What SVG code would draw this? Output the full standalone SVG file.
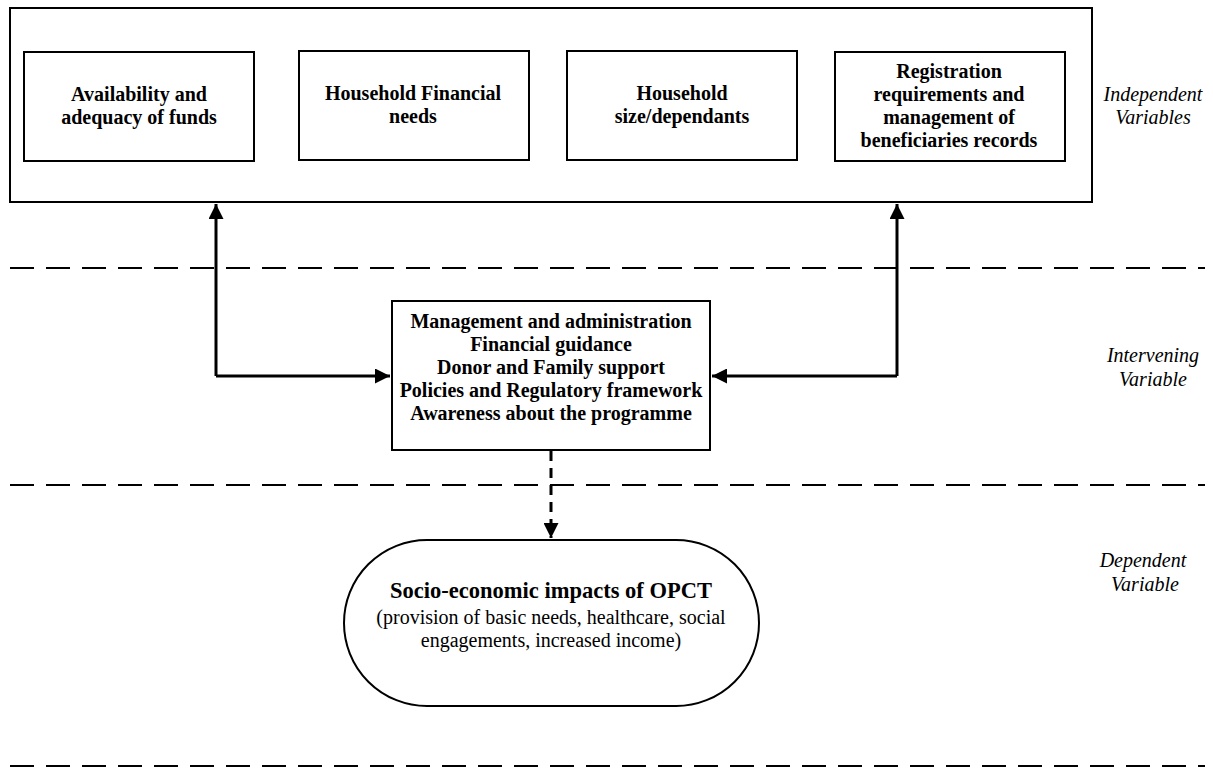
<svg xmlns="http://www.w3.org/2000/svg" width="1213" height="769" viewBox="0 0 1213 769">
<defs>
<style>
.box{fill:#fff;stroke:#000;stroke-width:2}
.t{font-family:"Liberation Serif","Times New Roman",serif;font-weight:bold;font-size:20px;text-anchor:middle;fill:#000}
.n{font-family:"Liberation Serif","Times New Roman",serif;font-size:20px;text-anchor:middle;fill:#000}
.lab{font-family:"Liberation Serif","Times New Roman",serif;font-style:italic;font-size:20px;text-anchor:middle;fill:#000}
.sep{stroke:#000;stroke-width:2;stroke-dasharray:24 12;fill:none}
.con{stroke:#000;stroke-width:3;fill:none}
</style>
<marker id="ah" viewBox="0 0 10 10" refX="10" refY="5" markerWidth="5" markerHeight="5" markerUnits="strokeWidth" orient="auto">
<path d="M0,0 L10,5 L0,10 z" fill="#000"/>
</marker>
</defs>
<rect width="1213" height="769" fill="#fff"/>
<g id="separators">
<line class="sep" x1="10" y1="268" x2="1205" y2="268"/>
<line class="sep" x1="10" y1="485" x2="1205" y2="485"/>
<line class="sep" x1="10" y1="766" x2="1205" y2="766"/>
</g>
<g id="independent">
<rect class="box" x="10" y="8" width="1082" height="194"/>
</g>
<g id="n1">
<rect class="box" x="24" y="52" width="230" height="109"/>
<text class="t" x="139" y="101">Availability and</text>
<text class="t" x="139" y="124">adequacy of funds</text>
</g>
<g id="n2">
<rect class="box" x="299" y="51" width="230" height="109"/>
<text class="t" x="413" y="100">Household Financial</text>
<text class="t" x="413" y="123">needs</text>
</g>
<g id="n3">
<rect class="box" x="567" y="51" width="230" height="109"/>
<text class="t" x="682" y="100">Household</text>
<text class="t" x="682" y="123">size/dependants</text>
</g>
<g id="n4">
<rect class="box" x="835" y="52" width="230" height="109"/>
<text class="t" x="949" y="78">Registration</text>
<text class="t" x="949" y="101">requirements and</text>
<text class="t" x="949" y="124">management of</text>
<text class="t" x="949" y="147">beneficiaries records</text>
</g>
<g id="intervening">
<rect class="box" x="392" y="301" width="318" height="149"/>
<text class="t" x="551" y="328">Management and administration</text>
<text class="t" x="551" y="351">Financial guidance</text>
<text class="t" x="551" y="374">Donor and Family support</text>
<text class="t" x="551" y="397">Policies and Regulatory framework</text>
<text class="t" x="551" y="420">Awareness about the programme</text>
</g>
<g id="dependent">
<rect class="box" x="344" y="540" width="415" height="166" rx="83" ry="83"/>
<text class="t" x="551" y="598" style="font-size:22.5px">Socio-economic impacts of OPCT</text>
<text class="n" x="551" y="624">(provision of basic needs, healthcare, social</text>
<text class="n" x="551" y="647">engagements, increased income)</text>
</g>
<g id="labels">
<text class="lab" x="1153" y="101">Independent</text>
<text class="lab" x="1153" y="124">Variables</text>
<text class="lab" x="1153" y="362">Intervening</text>
<text class="lab" x="1153" y="386">Variable</text>
<text class="lab" x="1143" y="567">Dependent</text>
<text class="lab" x="1145" y="591">Variable</text>
</g>
<g id="connectors">
<polyline class="con" points="216,376 216,204" marker-end="url(#ah)"/>
<polyline class="con" points="216,376 390,376" marker-end="url(#ah)"/>
<polyline class="con" points="897,376 897,204" marker-end="url(#ah)"/>
<polyline class="con" points="897,376 712,376" marker-end="url(#ah)"/>
<line class="con" x1="551" y1="451" x2="551" y2="538" stroke-dasharray="10 7" marker-end="url(#ah)"/>
</g>
</svg>
